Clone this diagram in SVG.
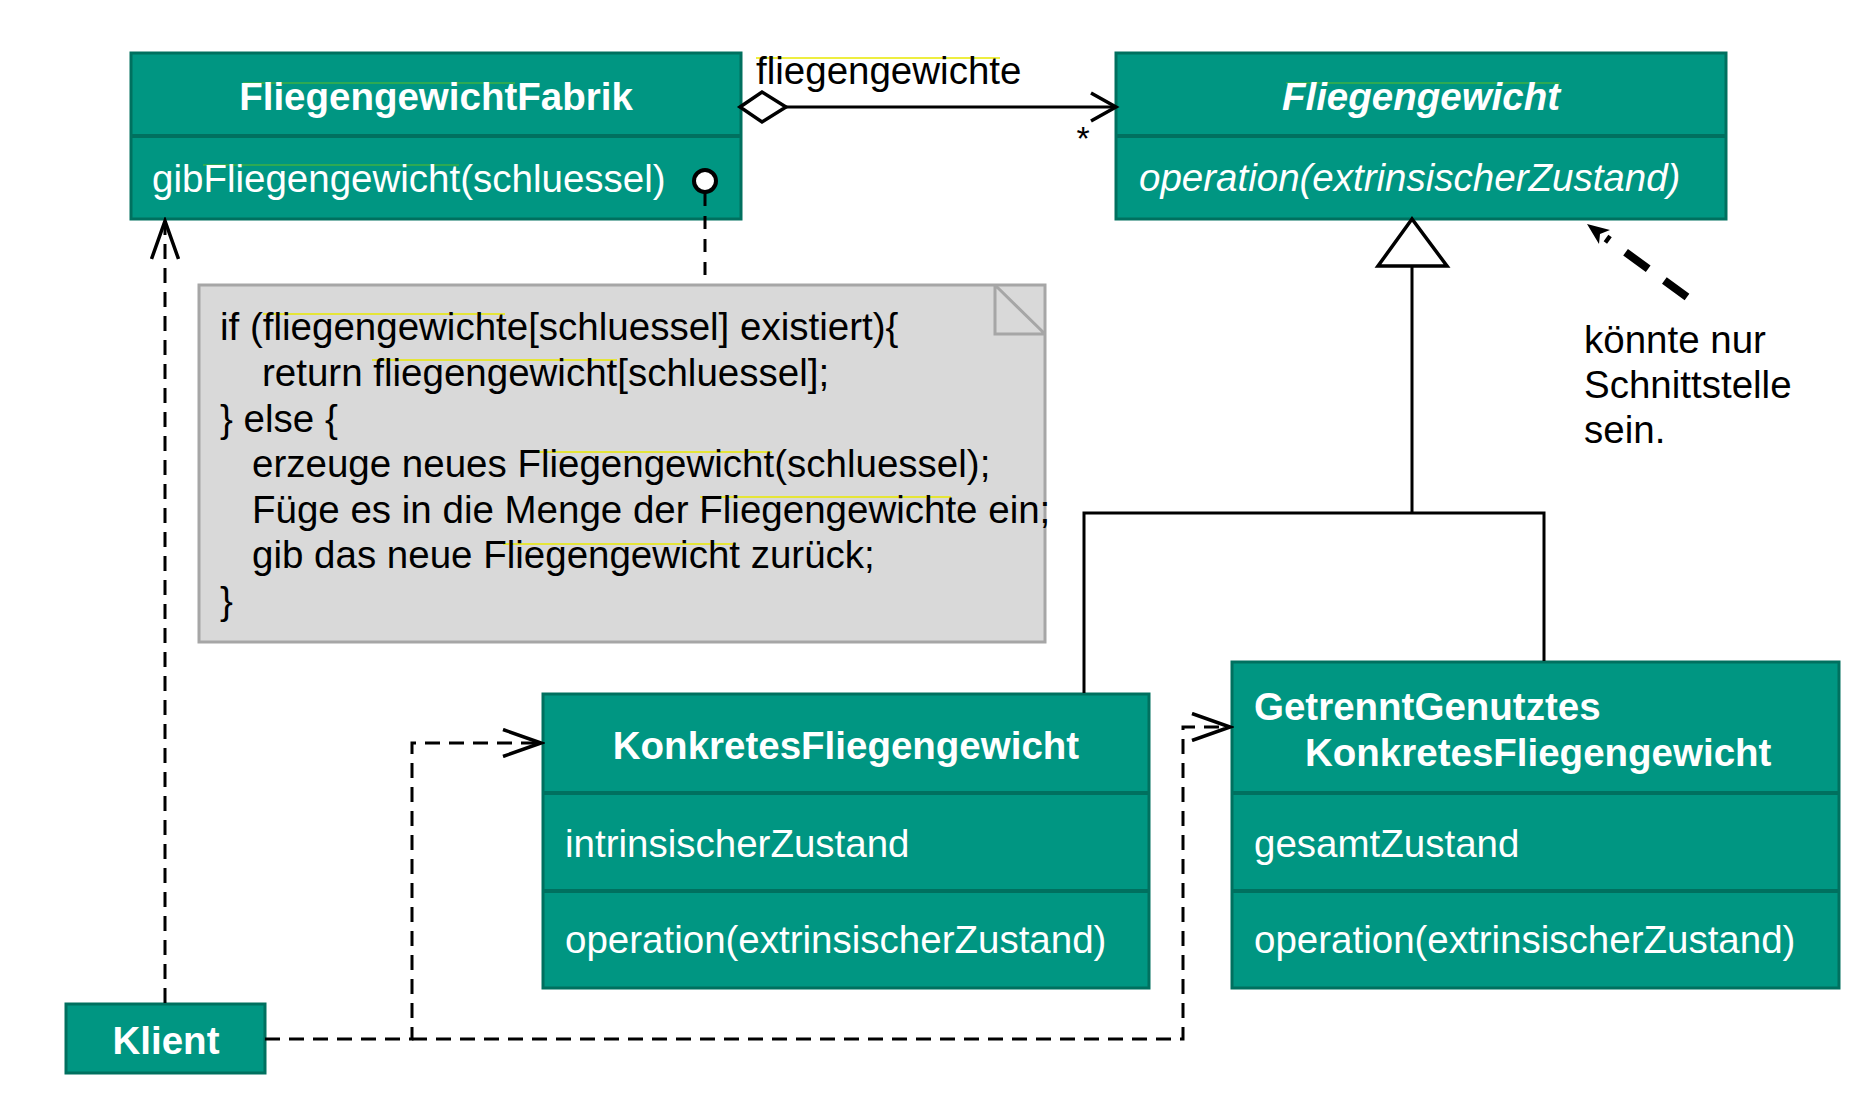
<svg xmlns="http://www.w3.org/2000/svg" width="1876" height="1098" viewBox="0 0 1876 1098">
<style>
.cls{fill:#009682;stroke:#00705F;stroke-width:3}
.sep{stroke:#00705F;stroke-width:4}
.t{font-family:"Liberation Sans",Arial,sans-serif;font-size:38.5px}
.w{fill:#fff}
.k{fill:#000}
.b{font-weight:bold}
.i{font-style:italic}
.mid{text-anchor:middle}
.dash{fill:none;stroke:#000;stroke-width:3;stroke-dasharray:15 9}
.solid{fill:none;stroke:#000;stroke-width:3}
.hollow{fill:#fff;stroke:#000;stroke-width:3.5}
.note{fill:#d9d9d9;stroke:#a6a6a6;stroke-width:3}
.fold{fill:none;stroke:#a6a6a6;stroke-width:3}
.sq{stroke:#e8e800;stroke-width:1.5}
.sqg{stroke:#3cb043;stroke-width:1.5}
</style>
<defs>
<marker id="open" markerUnits="userSpaceOnUse" viewBox="0 0 44 30" markerWidth="44" markerHeight="30" refX="40" refY="15" orient="auto">
<polyline points="2,1.5 40,15 2,28.5" fill="none" stroke="#000" stroke-width="3.5"/>
</marker>
</defs>
<rect width="1876" height="1098" fill="#fff"/>

<g id="FliegengewichtFabrik">
<rect class="cls" x="131" y="53" width="610" height="166"/>
<line class="sep" x1="131" y1="136" x2="741" y2="136"/>
<line class="sqg" x1="243" y1="83" x2="515" y2="83"/>
<line class="sqg" x1="203" y1="165" x2="459" y2="165"/>
<text class="t w b mid" x="436" y="110">FliegengewichtFabrik</text>
<text class="t w" x="152" y="192">gibFliegengewicht(schluessel)</text>
</g>

<g id="Fliegengewicht">
<rect class="cls" x="1116" y="53" width="610" height="166"/>
<line class="sep" x1="1116" y1="136" x2="1726" y2="136"/>
<line class="sqg" x1="1286" y1="83" x2="1560" y2="83"/>
<text class="t w b i mid" x="1421" y="110">Fliegengewicht</text>
<text class="t w i" x="1139" y="191">operation(extrinsischerZustand)</text>
</g>

<g id="label-fliegengewichte">
<line class="sq" x1="756" y1="58" x2="1000" y2="58"/>
<text class="t k" x="756" y="84">fliegengewichte</text>
</g>

<g id="note">
<rect class="note" x="199" y="285" width="846" height="357"/>
<path class="fold" d="M995,285 V334 H1045 M995,285 L1045,334"/>
<line class="sq" x1="263" y1="314" x2="505" y2="314"/>
<line class="sq" x1="372" y1="360" x2="617" y2="360"/>
<line class="sq" x1="530" y1="452" x2="772" y2="452"/>
<line class="sq" x1="700" y1="497" x2="951" y2="497"/>
<line class="sq" x1="503" y1="544" x2="736" y2="544"/>
<text class="t k" x="220" y="340">if (fliegengewichte[schluessel] existiert){</text>
<text class="t k" x="262" y="386">return fliegengewicht[schluessel];</text>
<text class="t k" x="220" y="432">} else {</text>
<text class="t k" x="252" y="477">erzeuge neues Fliegengewicht(schluessel);</text>
<text class="t k" x="252" y="523">Füge es in die Menge der Fliegengewichte ein;</text>
<text class="t k" x="252" y="568">gib das neue Fliegengewicht zurück;</text>
<text class="t k" x="220" y="614">}</text>
</g>

<g id="comment">
<text class="t k" x="1584" y="353">könnte nur</text>
<text class="t k" x="1584" y="398">Schnittstelle</text>
<text class="t k" x="1584" y="443">sein.</text>
</g>

<g id="KonkretesFliegengewicht">
<rect class="cls" x="543" y="694" width="606" height="294"/>
<line class="sep" x1="543" y1="793" x2="1149" y2="793"/>
<line class="sep" x1="543" y1="891" x2="1149" y2="891"/>
<text class="t w b mid" x="846" y="759">KonkretesFliegengewicht</text>
<text class="t w" x="565" y="857">intrinsischerZustand</text>
<text class="t w" x="565" y="953">operation(extrinsischerZustand)</text>
</g>

<g id="GetrenntGenutztesKonkretesFliegengewicht">
<rect class="cls" x="1232" y="662" width="607" height="326"/>
<line class="sep" x1="1232" y1="793" x2="1839" y2="793"/>
<line class="sep" x1="1232" y1="891" x2="1839" y2="891"/>
<text class="t w b" x="1254" y="720">GetrenntGenutztes</text>
<text class="t w b" x="1305" y="766">KonkretesFliegengewicht</text>
<text class="t w" x="1254" y="857">gesamtZustand</text>
<text class="t w" x="1254" y="953">operation(extrinsischerZustand)</text>
</g>

<g id="Klient">
<rect class="cls" x="66" y="1004" width="199" height="69"/>
<text class="t w b mid" x="166" y="1054">Klient</text>
</g>

<g id="connectors">
<!-- aggregation -->
<line class="solid" x1="786" y1="107" x2="1114" y2="107"/>
<polygon class="hollow" points="740,107 762,92 786,107 762,122"/>
<polyline points="1091,93 1116,107 1091,121" fill="none" stroke="#000" stroke-width="3.5"/>
<text class="t k" x="1083" y="150" style="font-size:34px" text-anchor="middle">*</text>
<!-- generalization -->
<path class="solid" d="M1412,266 V513 M1084,693 V513 H1544 V661"/>
<polygon class="hollow" points="1412,219 1378,266 1447,266"/>
<!-- note anchor -->
<line x1="705" y1="193" x2="705" y2="284" stroke="#000" stroke-width="3" stroke-dasharray="13 10"/>
<circle cx="705" cy="181" r="11" fill="#fff" stroke="#000" stroke-width="4"/>
<!-- Klient dependencies -->
<path class="dash" d="M165,1003 V221" marker-end="url(#open)"/>
<path class="dash" d="M265,1039 H412 V743 H541" marker-end="url(#open)"/>
<path class="dash" d="M412,1039 H1183 V727 H1230" marker-end="url(#open)"/>
<!-- comment arrow -->
<line x1="1687" y1="297" x2="1606" y2="238" stroke="#000" stroke-width="8" stroke-dasharray="28 20"/>
<polygon points="1587,224 1610,230 1600,234 1599,244" fill="#000"/>
</g>
</svg>
